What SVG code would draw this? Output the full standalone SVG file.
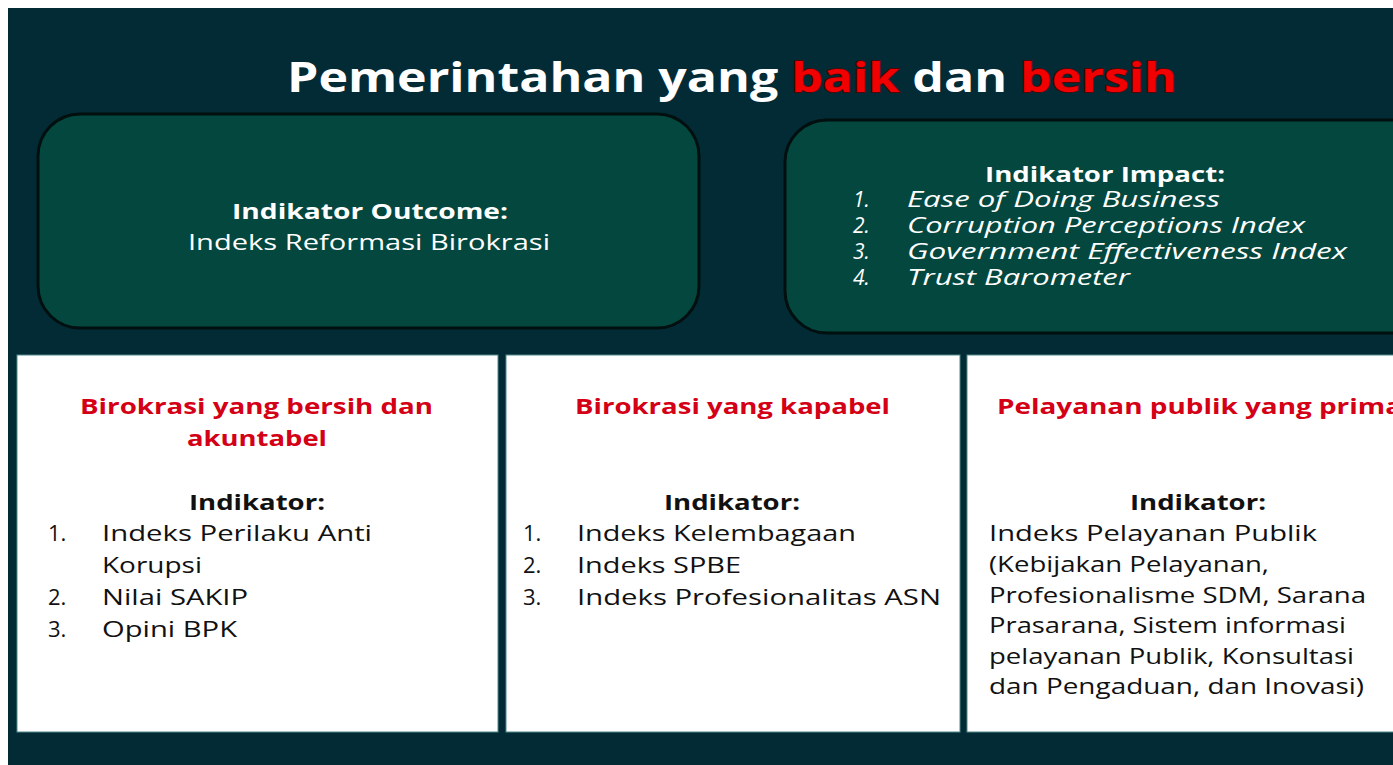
<svg xmlns="http://www.w3.org/2000/svg" width="1393" height="765" viewBox="0 0 1393 765">
<style>
.t{font-family:"Open Sans","Liberation Sans",sans-serif}
.w{fill:#ffffff}
.b{font-weight:bold}
.i{font-style:italic}
.k{fill:#111111}
.r{fill:#d40015;font-weight:bold}
.box{fill:#03473f;stroke:#020f0f;stroke-width:3}
.pan{fill:#ffffff;stroke:#4f8a8a;stroke-width:1}
.s21{font-size:21px}
.s22{font-size:22px}
</style>
<rect x="0" y="0" width="1393" height="765" fill="#ffffff"/>
<rect x="8" y="8" width="1385" height="757" fill="#032b36"/>
<g id="title">
<text class="t w b" x="287" y="92" font-size="42" textLength="890" lengthAdjust="spacingAndGlyphs">Pemerintahan yang <tspan fill="#f00000" stroke="#5a0000" stroke-width="1.5" paint-order="stroke">baik</tspan> dan <tspan fill="#f00000" stroke="#5a0000" stroke-width="1.5" paint-order="stroke">bersih</tspan></text>
</g>
<g id="outcome">
<rect class="box" x="38" y="114" width="661" height="214" rx="42"/>
<text class="t w b s22" x="232" y="219" textLength="276" lengthAdjust="spacingAndGlyphs">Indikator Outcome:</text>
<text class="t w s22" x="188" y="250" textLength="362" lengthAdjust="spacingAndGlyphs">Indeks Reformasi Birokrasi</text>
</g>
<g id="impact">
<rect class="box" x="785" y="120" width="660" height="213" rx="42"/>
<text class="t w b s22" x="985" y="182" textLength="240" lengthAdjust="spacingAndGlyphs">Indikator Impact:</text>
<text class="t w i s21" x="853" y="207">1.</text>
<text class="t w i s21" x="907" y="207" textLength="313" lengthAdjust="spacingAndGlyphs">Ease of Doing Business</text>
<text class="t w i s21" x="853" y="233">2.</text>
<text class="t w i s21" x="907" y="233" textLength="398" lengthAdjust="spacingAndGlyphs">Corruption Perceptions Index</text>
<text class="t w i s21" x="853" y="259">3.</text>
<text class="t w i s21" x="907" y="259" textLength="440" lengthAdjust="spacingAndGlyphs">Government Effectiveness Index</text>
<text class="t w i s21" x="853" y="285">4.</text>
<text class="t w i s21" x="907" y="285" textLength="223" lengthAdjust="spacingAndGlyphs">Trust Barometer</text>
</g>
<g id="panel1">
<rect class="pan" x="17" y="355" width="481" height="377"/>
<text class="t r s22" x="80" y="414" textLength="353" lengthAdjust="spacingAndGlyphs">Birokrasi yang bersih dan</text>
<text class="t r s22" x="187" y="446" textLength="140" lengthAdjust="spacingAndGlyphs">akuntabel</text>
<text class="t k b s22" x="189" y="510" textLength="136" lengthAdjust="spacingAndGlyphs">Indikator:</text>
<text class="t k s22" x="48" y="541">1.</text>
<text class="t k s22" x="102" y="541" textLength="270" lengthAdjust="spacingAndGlyphs">Indeks Perilaku Anti</text>
<text class="t k s22" x="102" y="573" textLength="100" lengthAdjust="spacingAndGlyphs">Korupsi</text>
<text class="t k s22" x="48" y="605">2.</text>
<text class="t k s22" x="102" y="605" textLength="146" lengthAdjust="spacingAndGlyphs">Nilai SAKIP</text>
<text class="t k s22" x="48" y="637">3.</text>
<text class="t k s22" x="102" y="637" textLength="135" lengthAdjust="spacingAndGlyphs">Opini BPK</text>
</g>
<g id="panel2">
<rect class="pan" x="506" y="355" width="454" height="377"/>
<text class="t r s22" x="575" y="414" textLength="315" lengthAdjust="spacingAndGlyphs">Birokrasi yang kapabel</text>
<text class="t k b s22" x="664" y="510" textLength="136" lengthAdjust="spacingAndGlyphs">Indikator:</text>
<text class="t k s22" x="523" y="541">1.</text>
<text class="t k s22" x="577" y="541" textLength="279" lengthAdjust="spacingAndGlyphs">Indeks Kelembagaan</text>
<text class="t k s22" x="523" y="573">2.</text>
<text class="t k s22" x="577" y="573" textLength="164" lengthAdjust="spacingAndGlyphs">Indeks SPBE</text>
<text class="t k s22" x="523" y="605">3.</text>
<text class="t k s22" x="577" y="605" textLength="364" lengthAdjust="spacingAndGlyphs">Indeks Profesionalitas ASN</text>
</g>
<g id="panel3">
<rect class="pan" x="967" y="355" width="440" height="377"/>
<text class="t r s22" x="997" y="414" textLength="405" lengthAdjust="spacingAndGlyphs">Pelayanan publik yang prima</text>
<text class="t k b s22" x="1130" y="510" textLength="136" lengthAdjust="spacingAndGlyphs">Indikator:</text>
<text class="t k s22" x="989" y="541" textLength="328" lengthAdjust="spacingAndGlyphs">Indeks Pelayanan Publik</text>
<text class="t k s22" x="989" y="572" textLength="280" lengthAdjust="spacingAndGlyphs">(Kebijakan Pelayanan,</text>
<text class="t k s22" x="989" y="603" textLength="377" lengthAdjust="spacingAndGlyphs">Profesionalisme SDM, Sarana</text>
<text class="t k s22" x="989" y="633" textLength="357" lengthAdjust="spacingAndGlyphs">Prasarana, Sistem informasi</text>
<text class="t k s22" x="989" y="664" textLength="365" lengthAdjust="spacingAndGlyphs">pelayanan Publik, Konsultasi</text>
<text class="t k s22" x="989" y="694" textLength="375" lengthAdjust="spacingAndGlyphs">dan Pengaduan, dan Inovasi)</text>
</g>
<g id="connectors"></g>
</svg>
